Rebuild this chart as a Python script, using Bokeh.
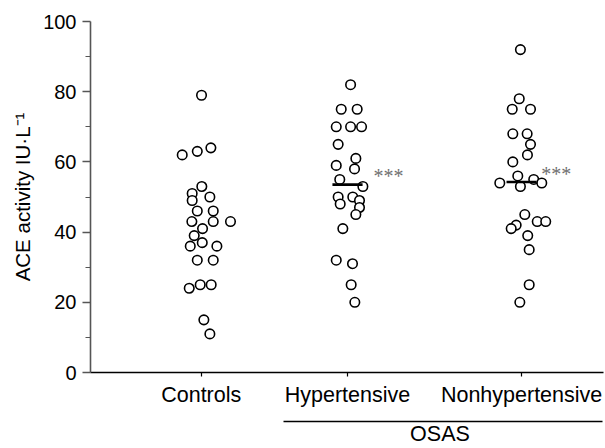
from bokeh.plotting import figure
from bokeh.models import Range1d, FixedTicker, LinearAxis
from bokeh.core.properties import value
from bokeh.embed import file_html
from bokeh.resources import INLINE
import numpy as np

# ---------------- data ----------------
categories = ["Controls", "Hypertensive", "Nonhypertensive"]
group_label = "OSAS"

controls = [79, 62, 63, 64, 53, 51, 49, 50, 46, 46, 43, 43, 43, 41, 39,
            36, 37, 36, 32, 32, 24, 25, 25, 15, 11]
controls_jitter = [0.002, -0.130, -0.027, 0.066, 0.004, -0.062, -0.062, 0.059,
                   -0.027, 0.082, -0.064, 0.082, 0.200, 0.009, -0.048, -0.075,
                   0.007, 0.107, -0.027, 0.082, -0.082, -0.007, 0.068, 0.018,
                   0.059]

hypertensive = [82, 75, 75, 70, 70, 70, 65, 61, 59, 58, 55, 53, 50, 50, 48,
                49, 47, 45, 41, 32, 31, 25, 20]
hypertensive_jitter = [0.021, -0.043, 0.066, -0.077, 0.021, 0.096, -0.064,
                       0.057, -0.077, 0.048, -0.053, 0.105, -0.064, 0.036,
                       -0.050, 0.082, 0.082, 0.057, -0.032, -0.077, 0.034,
                       0.025, 0.050]

nonhypertensive = [92, 78, 75, 75, 68, 68, 65, 62, 60, 56, 55, 54, 53, 54, 45,
                   42, 41, 43, 43, 39, 35, 25, 20]
nonhypertensive_jitter = [-0.008, -0.016, -0.064, 0.061, -0.060, 0.038, 0.061,
                          0.040, -0.060, -0.026, 0.083, -0.149, -0.008, 0.138,
                          0.022, -0.037, -0.071, 0.107, 0.165, 0.042, 0.052,
                          0.052, -0.012]

significance = ["", "***", "***"]
show_mean = [False, True, True]
y_ticks = [0, 20, 40, 60, 80, 100]
y_minor_ticks = [10, 30, 50, 70, 90]
y_label = "ACE activity IU\u00b7L\u207b\u00b9"

# ---------------- layout constants ----------------
group_pos = [1.0, 2.0, 3.19]
mean_half_width = 0.103
star_dx = [0.0, 0.178, 0.134]
star_dy = 2.4
osas_span = (1.56, 3.743)
osas_label_x = 2.632
FONT = "Liberation Sans"

p = figure(width=605, height=448, output_backend="svg", toolbar_location=None,
           x_range=Range1d(0.243, 3.75), y_range=Range1d(0, 100),
           min_border_left=90, min_border_right=2, min_border_top=21,
           min_border_bottom=75)
p.outline_line_color = None
p.xgrid.visible = False
p.ygrid.visible = False
p.background_fill_color = "white"

groups = [(controls, controls_jitter), (hypertensive, hypertensive_jitter),
          (nonhypertensive, nonhypertensive_jitter)]

mx0, mx1, my, sx, sy, st = [], [], [], [], [], []
for i, (vals, jit) in enumerate(groups):
    xs = [group_pos[i] + j for j in jit]
    p.scatter(x=xs, y=vals, marker="circle", size=9.5, fill_color="white",
              line_color="black", line_width=1.6)
    m = float(np.mean(vals))
    if show_mean[i]:
        mx0.append(group_pos[i] - mean_half_width)
        mx1.append(group_pos[i] + mean_half_width)
        my.append(m)
    if significance[i]:
        sx.append(group_pos[i] + star_dx[i])
        sy.append(m + star_dy)
        st.append(significance[i])

p.segment(x0=mx0, y0=my, x1=mx1, y1=my, line_color="black", line_width=2.6)
p.text(x=sx, y=sy, text=st, text_font=value("Liberation Serif"),
       text_font_size="20px", text_color="#707070", text_baseline="middle",
       text_align="left")

# x axis (categories)
xa = p.xaxis[0]
xa.ticker = FixedTicker(ticks=group_pos)
xa.major_label_overrides = {group_pos[i]: categories[i] for i in range(3)}
xa.major_label_text_font = FONT
xa.major_label_text_font_size = "21.5px"
xa.major_label_text_color = "black"
xa.major_label_standoff = 6
xa.major_tick_out = 4
xa.major_tick_in = 0
xa.minor_tick_out = 0
xa.minor_tick_in = 0
xa.axis_line_color = "black"
xa.axis_line_width = 1.5
xa.major_tick_line_color = "black"
xa.major_tick_line_width = 1.2
# spacer between the category labels and the OSAS bracket
xa.axis_label = " "
xa.axis_label_text_font_size = "8px"
xa.axis_label_standoff = 0

# OSAS bracket: a second bottom axis limited to the two OSAS groups,
# its single tick label carries the group name
oa = LinearAxis(ticker=FixedTicker(ticks=[osas_label_x]), bounds=osas_span)
oa.major_label_overrides = {osas_label_x: group_label}
oa.major_tick_out = 0
oa.major_tick_in = 0
oa.minor_tick_out = 0
oa.minor_tick_in = 0
oa.major_tick_line_color = None
oa.minor_tick_line_color = None
oa.major_label_text_font = FONT
oa.major_label_text_font_size = "21.5px"
oa.major_label_text_color = "black"
oa.major_label_standoff = 0
oa.axis_line_color = "black"
oa.axis_line_width = 1.3
p.add_layout(oa, "below")

# y axis
ya = p.yaxis[0]
ya.ticker = FixedTicker(ticks=y_ticks, minor_ticks=y_minor_ticks)
ya.major_label_text_font = FONT
ya.major_label_text_font_size = "20px"
ya.major_label_text_color = "black"
ya.major_label_standoff = 6
ya.major_tick_out = 8
ya.major_tick_in = 0
ya.minor_tick_out = 5
ya.minor_tick_in = 0
ya.axis_line_color = "#555555"
ya.axis_line_width = 1.6
ya.major_tick_line_color = "#555555"
ya.major_tick_line_width = 1.3
ya.minor_tick_line_color = "#555555"
ya.minor_tick_line_width = 1.2
ya.axis_label = y_label
ya.axis_label_text_font = FONT
ya.axis_label_text_font_size = "20.5px"
ya.axis_label_text_font_style = "normal"
ya.axis_label_text_color = "black"
ya.axis_label_standoff = 6

open("out.html", "w").write(file_html(p, INLINE))
